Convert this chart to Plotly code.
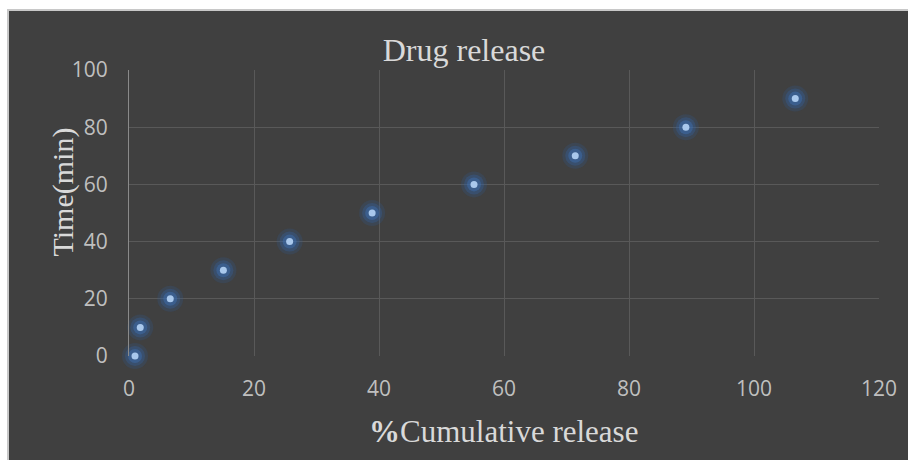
import plotly.graph_objects as go

# Data
cumulative_release = [0.96, 1.8, 6.6, 15.1, 25.7, 38.9, 55.2, 71.4, 89.1, 106.6]
time_min = [0, 10, 20, 30, 40, 50, 60, 70, 80, 90]
x_ticks = [0, 20, 40, 60, 80, 100, 120]
y_ticks = [0, 20, 40, 60, 80, 100]

BG = "#404040"
GRID = "#595959"
TICK = "#bfbfbf"
TITLE = "#d9d9d9"

fig = go.Figure()
# glow layers
for size, col in [(26, "rgba(46,90,150,0.22)"), (20, "rgba(52,100,165,0.32)"),
                  (14, "rgba(62,112,180,0.45)")]:
    fig.add_trace(go.Scatter(x=cumulative_release, y=time_min, mode="markers",
                             marker=dict(size=size, color=col, line=dict(width=0)),
                             hoverinfo="skip", showlegend=False, cliponaxis=False))
fig.add_trace(go.Scatter(x=cumulative_release, y=time_min, mode="markers",
                         marker=dict(size=7, color="#a9c8ec", line=dict(width=0)),
                         showlegend=False, cliponaxis=False))

W, H = 908, 460
L, R, T, B = 129, 29, 70, 104
pw, ph = W - L - R, H - T - B


def px_x(v):
    return (v - L) / pw


def px_y(v):
    return (H - B - v) / ph


fig.update_layout(
    width=W, height=H,
    margin=dict(l=L, r=R, t=T, b=B),
    paper_bgcolor=BG, plot_bgcolor=BG,
    font=dict(family="Open Sans", color=TICK, size=21),
    title=dict(text="Drug release", x=464 / W, xref="container", xanchor="center",
               y=1 - 50 / H, yref="container", yanchor="middle",
               font=dict(family="Liberation Serif", size=32, color=TITLE)),
    xaxis=dict(range=[0, 120], tickvals=x_ticks, showgrid=True, gridcolor=GRID, gridwidth=1,
               zeroline=False, showline=False, ticks="", ticklabelstandoff=18,
               tickfont=dict(family="Open Sans", size=21, color=TICK)),
    yaxis=dict(range=[0, 100], tickvals=y_ticks, showgrid=True, gridcolor=GRID, gridwidth=1,
               zeroline=False, showline=True, linecolor="#8a8a8a", linewidth=1, ticks="",
               ticklabelstandoff=16,
               tickfont=dict(family="Open Sans", size=21, color=TICK)),
    annotations=[
        dict(text="<b>%</b>Cumulative release", xref="paper", yref="paper",
             x=px_x(503), y=px_y(431), xanchor="center", yanchor="middle",
             showarrow=False, font=dict(family="Liberation Serif", size=31, color=TITLE)),
        dict(text="Time(min)", xref="paper", yref="paper", textangle=-90,
             x=px_x(62), y=px_y(192.5), xanchor="center", yanchor="middle",
             showarrow=False, font=dict(family="Liberation Serif", size=30, color=TITLE)),
    ],
)

# white outer bands (top and left) with a thin gray edge
fig.add_shape(type="rect", xref="paper", yref="paper", x0=px_x(-5), x1=px_x(W + 5),
              y0=px_y(9), y1=px_y(-5), fillcolor="white", line=dict(width=0), layer="above")
fig.add_shape(type="rect", xref="paper", yref="paper", x0=px_x(-5), x1=px_x(7),
              y0=px_y(H + 5), y1=px_y(-5), fillcolor="white", line=dict(width=0), layer="above")
fig.add_shape(type="rect", xref="paper", yref="paper", x0=px_x(7), x1=px_x(W + 5),
              y0=px_y(11), y1=px_y(9), fillcolor="#c8c8c8", line=dict(width=0), layer="above")
fig.add_shape(type="rect", xref="paper", yref="paper", x0=px_x(7), x1=px_x(9),
              y0=px_y(H + 5), y1=px_y(9), fillcolor="#c8c8c8", line=dict(width=0), layer="above")

fig.write_html("out.html")
